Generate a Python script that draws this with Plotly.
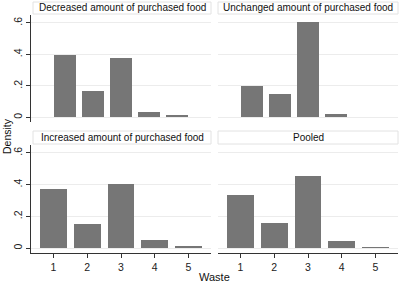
import plotly.graph_objects as go

categories = [1, 2, 3, 4, 5]
decreased = [0.394, 0.169, 0.375, 0.031, 0.015]
unchanged = [0.201, 0.150, 0.606, 0.023, 0.0]
increased = [0.375, 0.154, 0.404, 0.055, 0.011]
pooled = [0.335, 0.156, 0.453, 0.047, 0.009]
panel_titles = ["Decreased amount of purchased food", "Unchanged amount of purchased food",
                "Increased amount of purchased food", "Pooled"]
y_tickvals = [0, 0.2, 0.4, 0.6]
y_ticktext = ["0", ".2", ".4", ".6"]
x_tickvals = [1, 2, 3, 4, 5]

W, H = 400, 284
BAR = "#767676"
GRID = "#ececec"
AX = "#333333"
FONT = "Liberation Sans, Arial, sans-serif"

# panel pixel boxes (left, right, top, bottom)
cols = [(31, 211), (218, 398)]
rows = [(15, 122), (145, 253)]
title_rows = [(2, 14), (131, 144)]

def px_x(v):
    return v / W

def px_y(v):
    return 1 - v / H

fig = go.Figure()
series = [decreased, unchanged, increased, pooled]
shapes = []
annotations = []
for i, vals in enumerate(series):
    r, c = divmod(i, 2)
    ax = "" if i == 0 else str(i + 1)
    if r == 0:
        xs = [3 + (k - 3) * 5 / 6 for k in categories]
        width = 0.65
    else:
        xs = categories
        width = 0.79
    fig.add_trace(go.Bar(x=xs, y=vals, width=width, xaxis="x" + ax, yaxis="y" + ax,
                         marker=dict(color=BAR, line=dict(width=0)),
                         showlegend=False, hoverinfo="skip"))
    xl, xr = cols[c]
    yt, yb = rows[r]
    left = c == 0
    bottom = r == 1
    fig.update_layout(**{
        "xaxis" + ax: dict(domain=[px_x(xl), px_x(xr)], anchor="y" + ax, range=[0.333, 5.667],
                           tickvals=x_tickvals, showgrid=False, zeroline=False,
                           showline=bottom, linecolor=AX, linewidth=1,
                           ticks="outside" if bottom else "", ticklen=4, tickcolor=AX,
                           showticklabels=bottom, tickfont=dict(size=10.5, color="#222", family=FONT)),
        "yaxis" + ax: dict(domain=[px_y(yb), px_y(yt)], anchor="x" + ax, range=[-0.03, 0.65],
                           tickvals=y_tickvals, ticktext=y_ticktext, showgrid=True, gridcolor=GRID,
                           gridwidth=1, zeroline=False,
                           showline=left, linecolor=AX, linewidth=1,
                           ticks="outside" if left else "", ticklen=4, tickcolor=AX,
                           showticklabels=left, tickangle=-90,
                           tickfont=dict(size=10.5, color="#222", family=FONT)),
    })
    tt, tb = title_rows[r]
    tl = xl + 2 if c == 0 else xl
    shapes.append(dict(type="rect", xref="paper", yref="paper",
                       x0=px_x(tl), x1=px_x(xr), y0=px_y(tb), y1=px_y(tt),
                       line=dict(color="#e2e2e2", width=1), fillcolor="white", layer="below"))
    annotations.append(dict(text=panel_titles[i], xref="paper", yref="paper",
                            x=px_x((tl + xr) / 2), y=px_y((tt + tb) / 2), showarrow=False,
                            xanchor="center", yanchor="middle",
                            font=dict(size=10, color="#111", family=FONT)))

annotations.append(dict(text="Density", xref="paper", yref="paper", x=px_x(7), y=px_y(136),
                        showarrow=False, textangle=-90, xanchor="center", yanchor="middle",
                        font=dict(size=10.5, color="#111", family=FONT)))
annotations.append(dict(text="Waste", xref="paper", yref="paper", x=px_x(214), y=px_y(277),
                        showarrow=False, xanchor="center", yanchor="middle",
                        font=dict(size=11, color="#111", family=FONT)))

fig.update_layout(width=W, height=H, margin=dict(l=0, r=0, t=0, b=0),
                  paper_bgcolor="white", plot_bgcolor="white", bargap=0,
                  shapes=shapes, annotations=annotations)
fig.write_html("out.html", config={"displayModeBar": False, "staticPlot": True})

with open("out.html", "r", encoding="utf-8") as f:
    html = f.read()
html = html.replace("<head>", "<head><style>html,body{margin:0;padding:0;overflow:hidden}</style>", 1)
with open("out.html", "w", encoding="utf-8") as f:
    f.write(html)
